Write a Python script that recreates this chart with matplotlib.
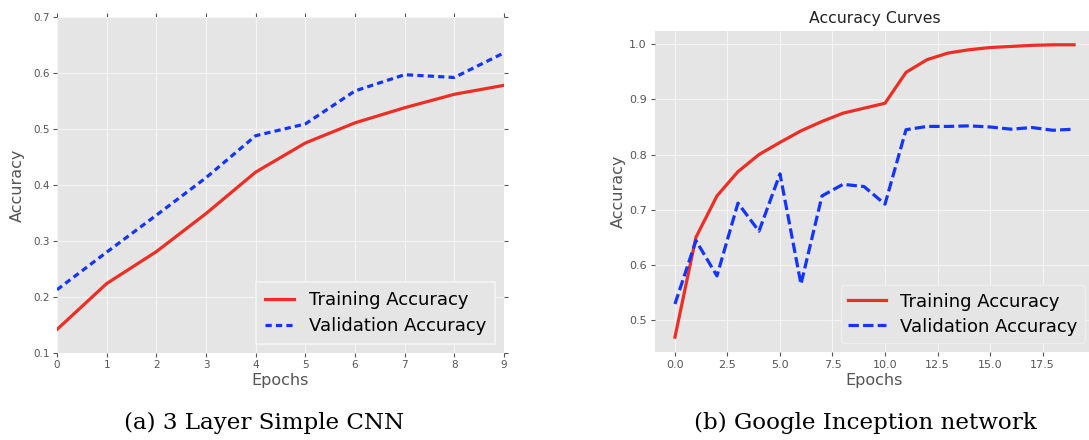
import matplotlib
matplotlib.use("Agg")
import matplotlib.pyplot as plt
import numpy as np

# ── DATA ─────────────────────────────────────────────────────────────────────
cnn_epochs = np.arange(10)
cnn_train = [0.142, 0.224, 0.281, 0.349, 0.423, 0.475, 0.511, 0.538, 0.562, 0.578]
cnn_val = [0.213, 0.280, 0.346, 0.413, 0.488, 0.509, 0.568, 0.597, 0.592, 0.636]

inc_epochs = np.arange(20)
inc_train = [0.469, 0.650, 0.725, 0.769, 0.800, 0.822, 0.843, 0.860, 0.875, 0.884,
             0.893, 0.949, 0.972, 0.984, 0.990, 0.994, 0.996, 0.998, 0.999, 0.999]
inc_val = [0.529, 0.644, 0.580, 0.712, 0.661, 0.765, 0.565, 0.725, 0.746, 0.742,
           0.710, 0.845, 0.851, 0.851, 0.852, 0.850, 0.846, 0.849, 0.844, 0.846]

LABELS = ["Training Accuracy", "Validation Accuracy"]
CAPTIONS = ["(a) 3 Layer Simple CNN", "(b) Google Inception network"]

RED = "#EE2E24"
BLUE = "#1434FF"
BG = "#E5E5E5"
GREY = "#555555"

plt.rcParams["lines.scale_dashes"] = False

fig = plt.figure(figsize=(10.89, 4.40), dpi=100)

# ── LEFT: classic ggplot look ────────────────────────────────────────────────
ax1 = fig.add_axes([57 / 1089, 87 / 440, 447 / 1089, 336 / 440])
ax1.set_facecolor(BG)
for s in ax1.spines.values():
    s.set_visible(False)
ax1.grid(True, color="#F4F4F4", linewidth=0.9)
ax1.set_axisbelow(True)
ax1.plot(cnn_epochs, cnn_train, color=RED, linewidth=2.3, label=LABELS[0])
ax1.plot(cnn_epochs, cnn_val, color=BLUE, linewidth=2.3, dashes=(4.5, 3), label=LABELS[1])
ax1.set_xlim(0, 9)
ax1.set_ylim(0.1, 0.7)
ax1.set_xticks(range(10))
ax1.set_yticks(np.arange(0.1, 0.71, 0.1))
ax1.tick_params(direction="out", top=True, right=True, length=3, color=GREY,
                labelcolor=GREY, labelsize=7.5, pad=2)
ax1.set_xlabel("Epochs", fontsize=11.5, color=GREY, labelpad=2)
ax1.set_ylabel("Accuracy", fontsize=11.5, color=GREY, labelpad=6)
leg1 = ax1.legend(loc="lower right", fontsize=13, fancybox=False, handlelength=1.6,
                  facecolor=BG, edgecolor="#F4F4F4", framealpha=1, labelspacing=0.45,
                  borderpad=0.5)
leg1.get_frame().set_linewidth(1.2)

# ── RIGHT: newer ggplot look ─────────────────────────────────────────────────
ax2 = fig.add_axes([655 / 1089, 88 / 440, 439 / 1089, 321 / 440])
ax2.set_facecolor(BG)
for s in ax2.spines.values():
    s.set_visible(False)
ax2.grid(True, color="#F4F4F4", linewidth=0.9)
ax2.set_axisbelow(True)
ax2.plot(inc_epochs, inc_train, color=RED, linewidth=2.3, label=LABELS[0])
ax2.plot(inc_epochs, inc_val, color=BLUE, linewidth=2.3, dashes=(7.5, 3), label=LABELS[1])
ax2.set_ylim(0.442, 1.024)
ax2.tick_params(direction="out", length=3, color=GREY, labelcolor=GREY,
                labelsize=8, pad=3)
ax2.set_xlabel("Epochs", fontsize=11.5, color=GREY, labelpad=2)
ax2.set_ylabel("Accuracy", fontsize=11.5, color=GREY, labelpad=2)
ax2.set_title("Accuracy Curves", fontsize=11.3, color="#222222", pad=6)
leg2 = ax2.legend(loc="lower right", fontsize=13, handlelength=2.1,
                  facecolor=BG, edgecolor="#EEEEEE", framealpha=1, labelspacing=0.4)

# ── CAPTIONS ─────────────────────────────────────────────────────────────────
fig.text(264 / 1089, 1 - 423 / 440, CAPTIONS[0], ha="center", va="center",
         fontsize=16.6, family="DejaVu Serif")
fig.text(865 / 1089, 1 - 423 / 440, CAPTIONS[1], ha="center", va="center",
         fontsize=16.6, family="DejaVu Serif")

fig.savefig("out.png", dpi=100)
